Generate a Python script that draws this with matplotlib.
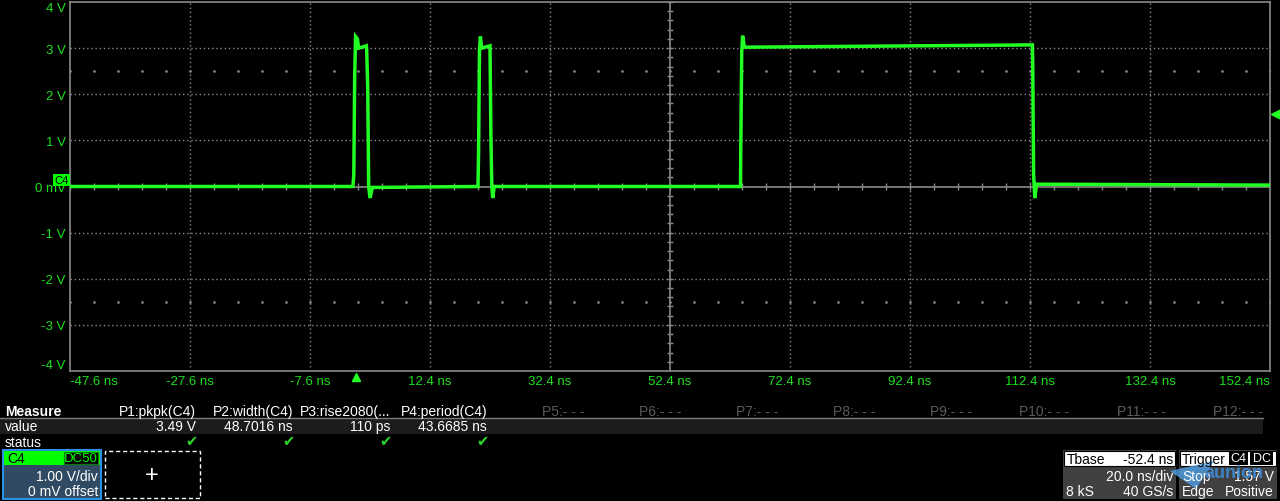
import matplotlib
matplotlib.use("Agg")
import matplotlib.pyplot as plt
import matplotlib.transforms as mtransforms
from matplotlib.patches import Rectangle, Polygon
import numpy as np

plt.rcParams['font.family'] = ['Liberation Sans', 'DejaVu Sans']

# screen size in pixels
W, H = 1280, 502

# trace of channel C4 (time in ns, level in V)
trace_t = [-47.6, -0.45, -0.3, -0.15, 0.0, 0.3, 0.5, 1.8, 1.85, 2.02, 2.18, 2.4, 2.8,
           20.4, 20.5, 20.65, 20.8, 21.0, 22.4, 22.55, 22.7, 22.85, 23.1,
           64.15, 64.2, 64.35, 64.5, 64.8, 112.8, 112.85, 113.0, 113.2, 113.5, 152.4]
trace_v = [0.0, 0.0, 0.25, 2.4, 3.25, 3.2, 3.0, 3.05, 2.95, 2.15, 0.0, -0.25, -0.02,
           0.0, 0.8, 2.95, 3.25, 3.0, 3.05, 1.1, 0.0, -0.25, 0.0,
           0.0, 0.88, 2.9, 3.27, 3.02, 3.07, 2.7, 0.27, -0.25, 0.05, 0.03]

x_ticks = [-47.6, -27.6, -7.6, 12.4, 32.4, 52.4, 72.4, 92.4, 112.4, 132.4, 152.4]
x_labels = ['-47.6 ns', '-27.6 ns', '-7.6 ns', '12.4 ns', '32.4 ns', '52.4 ns',
            '72.4 ns', '92.4 ns', '112.4 ns', '132.4 ns', '152.4 ns']
y_ticks = [4, 3, 2, 1, 0, -1, -2, -3, -4]
y_labels = ['4 V', '3 V', '2 V', '1 V', '0 mV', '-1 V', '-2 V', '-3 V', '-4 V']

trigger_time = 0.0
trigger_level = 1.57

measure_names = ['P1:pkpk(C4)', 'P2:width(C4)', 'P3:rise2080(...', 'P4:period(C4)',
                 'P5:- - -', 'P6:- - -', 'P7:- - -', 'P8:- - -', 'P9:- - -',
                 'P10:- - -', 'P11:- - -', 'P12:- - -']
measure_values = ['3.49 V', '48.7016 ns', '110 ps', '43.6685 ns']

GREEN = '#22ff22'
LBL = '#1ee01e'
GRID = '#8a8a8a'

fig = plt.figure(figsize=(W / 100, H / 100), dpi=100, facecolor='black')


def fx(x):
    return x / W


def fy(y):
    return 1 - y / H


def rect(x0, y0, x1, y1, fc, ec='none', lw=0, ls='-'):
    fig.add_artist(Rectangle((fx(x0), fy(y1)), (x1 - x0) / W, (y1 - y0) / H,
                             transform=fig.transFigure, facecolor=fc,
                             edgecolor=ec, linewidth=lw, linestyle=ls))


def txt(x, y, s, color='white', ha='left', size=9.5, **kw):
    fig.text(fx(x), fy(y), s, color=color, ha=ha, va='center', fontsize=size, **kw)


# scope screen
ax = fig.add_axes([fx(70), fy(372), 1200 / W, 369 / H])
ax.set_facecolor('black')
ax.set_xlim(-47.6, 152.4)
ax.set_ylim(-4, 4)
for s in ax.spines.values():
    s.set_color(GRID)
    s.set_linewidth(1.2)

# graticule
for v in [3, 2, 1, -1, -2, -3]:
    ax.axhline(v, color=GRID, lw=1, ls=(0, (1, 2)), zorder=1)
for t in x_ticks[1:-1]:
    if t != 52.4:
        ax.axvline(t, color=GRID, lw=1, ls=(0, (1, 2)), zorder=1)
ax.axhline(0, color=GRID, lw=1.2, zorder=1)
ax.axvline(52.4, color=GRID, lw=1.2, zorder=1)
minor_t = np.arange(-47.6, 152.5, 4.0)
ax.vlines(minor_t, -0.07, 0.07, color=GRID, lw=1, zorder=1)
minor_v = np.arange(-4, 4.01, 0.2)
ax.hlines(minor_v, 52.4 - 0.55, 52.4 + 0.55, color=GRID, lw=1, zorder=1)
ax.scatter(minor_t, np.full_like(minor_t, 2.5), s=0.8, color=GRID, zorder=1)
ax.scatter(minor_t, np.full_like(minor_t, -2.5), s=0.8, color=GRID, zorder=1)

# waveform
ax.plot(trace_t, trace_v, color=GREEN, lw=2.5, zorder=3, solid_joinstyle='miter')

# ticks
ax.set_xticks(x_ticks)
ax.set_xticklabels(x_labels)
ax.set_yticks(y_ticks)
ax.set_yticklabels(y_labels)
ax.tick_params(colors=LBL, length=0, labelsize=9.5, pad=3)
xl = ax.get_xticklabels()
xl[0].set_ha('left')
xl[-1].set_ha('right')
yl = ax.get_yticklabels()
yl[0].set_va('top')
yl[-1].set_va('bottom')

# trigger markers
bt = mtransforms.blended_transform_factory(ax.transData, ax.transAxes)
ax.plot([trigger_time], [-0.016], marker='^', ms=6, color=GREEN, transform=bt,
        clip_on=False, zorder=5)
bt2 = mtransforms.blended_transform_factory(ax.transAxes, ax.transData)
ax.plot([1.005], [trigger_level], marker='<', ms=7, color=GREEN, transform=bt2,
        clip_on=False, zorder=5)

# channel marker on the left
fig.text(fx(61.5), fy(181), 'C4', color='black', ha='center', va='center', fontsize=8,
         bbox=dict(boxstyle='square,pad=0.12', fc='#00ff00', ec='none'))

# measure table
rect(0, 420, 1263, 435, '#1c1c1c')
fig.add_artist(plt.Line2D([0, fx(1263)], [fy(419), fy(419)], color='#7a7a7a', lw=1))
txt(5, 412, 'Measure', weight='bold', size=10)
txt(5, 427, 'value', size=10)
txt(5, 443, 'status', size=10)
for i, name in enumerate(measure_names):
    xr = 196 + 97.0 * i
    active = i < len(measure_values)
    txt(xr, 412, name, color='white' if active else '#5a5a5a', ha='right', size=10)
    if active:
        txt(xr, 427, measure_values[i], ha='right', size=10)
        txt(xr - 5, 442, '\u2714', color='#2bd62b', ha='center', size=10.5,
            family=['DejaVu Sans'])

# C4 channel box
rect(3, 451, 101, 500, '#2f4a62', ec='#2a90e6', lw=1.5)
rect(4, 452, 100, 466, '#00ff00')
rect(64, 453, 98, 465, 'black', ec='#0a7a0a', lw=0.8)
txt(7, 459, 'C4', color='black', size=10)
txt(81, 459, 'DC50', color='#00ff00', ha='center', size=9.5)
txt(98, 477, '1.00 V/div', ha='right', size=10)
txt(98, 492, '0 mV offset', ha='right', size=10)

# add box
rect(105, 452, 200, 499, 'none', ec='white', lw=1, ls=(0, (3, 2)))
txt(152, 476, '+', ha='center', size=17)

# timebase box
rect(1063, 451, 1176, 500, '#404040')
rect(1064, 452, 1175, 467, 'white', ec='black', lw=0.8)
txt(1067, 460, 'Tbase', color='black', size=10)
txt(1173, 460, '-52.4 ns', color='black', ha='right', size=10)
txt(1173, 477, '20.0 ns/div', ha='right', size=10)
txt(1066, 492, '8 kS', size=10)
txt(1173, 492, '40 GS/s', ha='right', size=10)

# trigger box
rect(1179, 451, 1277, 500, '#404040')
rect(1180, 452, 1276, 467, 'white', ec='black', lw=0.8)
txt(1182, 460, 'Trigger', color='black', size=10)
rect(1229, 453, 1248, 466, 'black')
rect(1250, 453, 1273, 466, 'black')
txt(1238.5, 459.5, 'C4', ha='center', size=9)
txt(1261.5, 459.5, 'DC', ha='center', size=9)
txt(1182, 477, 'Stop', size=10)
txt(1274, 477, '1.57 V', ha='right', size=10)
txt(1182, 492, 'Edge', size=10)
txt(1274, 492, 'Positive', ha='right', size=10)

# watermark
fig.add_artist(Polygon([(fx(1170), fy(472)), (fx(1214), fy(462)), (fx(1196), fy(490))],
                       closed=True, transform=fig.transFigure, fc='#4f9fe6',
                       ec='none', alpha=0.8))
txt(1234, 473, 'aunion', color='#3d8fe0', ha='center', size=13, weight='bold',
    alpha=0.85)

fig.savefig('out.png', dpi=100, facecolor='black')
